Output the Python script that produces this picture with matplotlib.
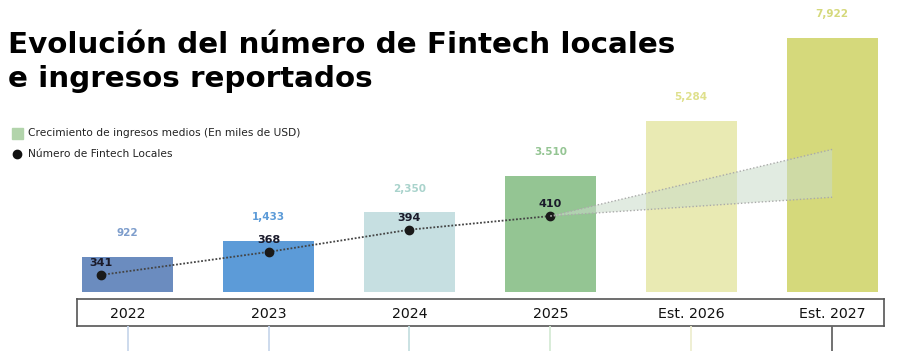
import matplotlib.pyplot as plt
import numpy as np

plt.rcParams['font.family'] = ['DejaVu Sans']

years = ["2022", "2023", "2024", "2025", "Est. 2026", "Est. 2027"]
ingresos = [922, 1433, 2350, 3510, 5284, 7922]
ingresos_lbl = ["922", "1,433", "2,350", "3.510", "5,284", "7,922"]
fintech = [341, 368, 394, 410]
proy_2027 = [432, 488]  # rango proyectado (bajo, alto)

bar_colors = ["#6b8cbf", "#5c9bd8", "#c6dfe1", "#94c593", "#e9eab3", "#d5d97b"]
lbl_colors = ["#7d9dcc", "#5c9bd8", "#a9d3cc", "#94c593", "#dfe08c", "#d5d97b"]
tick_colors = ["#c9d8ec", "#c9d8ec", "#c6dfe1", "#d6ead5", "#eeeed0", "#666666"]

x = np.arange(len(years))
base = -197  # las barras arrancan un poco por debajo del cero

fig = plt.figure(figsize=(9.06, 3.51), dpi=100)

ax = fig.add_axes([0.085, 0.168, 0.891, 0.832])
ax.bar(x, np.array(ingresos) - base, bottom=base, width=0.645, color=bar_colors)
ax.set_xlim(-0.36, 5.37)
ax.set_ylim(base, 9135)
ax.axis("off")
for i in range(len(x)):
    ax.annotate(ingresos_lbl[i], (x[i], ingresos[i]), xytext=(0, 13.5), textcoords="offset points",
                ha="center", va="bottom", fontsize=7.5, fontweight="bold", color=lbl_colors[i])

ax2 = ax.twinx()
ax2.set_ylim(321, 663)
ax2.axis("off")
xl = x[:len(fintech)].astype(float)
xl[0] -= 0.19
ax2.plot(xl, fintech, linestyle=(0, (1, 1)), color="#444444", linewidth=1.3)
ax2.plot(xl, fintech, "o", color="#1a1a1a", markersize=6)
for i in range(len(fintech)):
    ax2.annotate(str(fintech[i]), (xl[i], fintech[i]), xytext=(0, 5), textcoords="offset points",
                 ha="center", va="bottom", fontsize=8, fontweight="bold", color="#1a1a2a")

# cono de proyeccion
cx = [x[3], x[5], x[5]]
cy = [fintech[-1], proy_2027[1], proy_2027[0]]
ax2.fill(cx, cy, color="#c9dcc9", alpha=0.55, linewidth=0)
ax2.plot([x[3], x[5]], [fintech[-1], proy_2027[1]], linestyle=(0, (1, 1.5)), color="#aaaaaa", linewidth=1)
ax2.plot([x[3], x[5]], [fintech[-1], proy_2027[0]], linestyle=(0, (1, 1.5)), color="#aaaaaa", linewidth=1)

# caja de etiquetas
axb = fig.add_axes([0.085, 0.0712, 0.891, 0.077])
axb.set_xlim(-0.36, 5.37)
axb.set_ylim(0, 1)
axb.set_xticks([])
axb.set_yticks([])
for s in axb.spines.values():
    s.set_color("#555555")
    s.set_linewidth(1.2)
for i in range(len(x)):
    axb.text(x[i], 0.45, years[i], ha="center", va="center", fontsize=10.2, color="#111111")

axt = fig.add_axes([0.085, 0.0, 0.891, 0.0712])
axt.set_xlim(-0.36, 5.37)
axt.set_ylim(0, 1)
axt.axis("off")
for i in range(len(x)):
    axt.axvline(x[i], color=tick_colors[i], linewidth=1.3)

fig.text(0.009, 0.849, "Evolución del número de Fintech locales",
         fontsize=21.2, fontweight="bold", color="#000000", va="baseline", ha="left")
fig.text(0.009, 0.753, "e ingresos reportados",
         fontsize=21.2, fontweight="bold", color="#000000", va="baseline", ha="left")

fig.patches.append(plt.Rectangle((0.013, 0.605), 0.012, 0.031, transform=fig.transFigure,
                                 color="#b2d4ab"))
fig.text(0.031, 0.621, "Crecimiento de ingresos medios (En miles de USD)", fontsize=7.7, va="center", color="#222222")
fig.lines.append(plt.Line2D([0.0185], [0.56], marker="o", markersize=6, color="#111111",
                            transform=fig.transFigure))
fig.text(0.031, 0.56, "Número de Fintech Locales", fontsize=7.7, va="center", color="#222222")

fig.savefig("out.png", dpi=100)
